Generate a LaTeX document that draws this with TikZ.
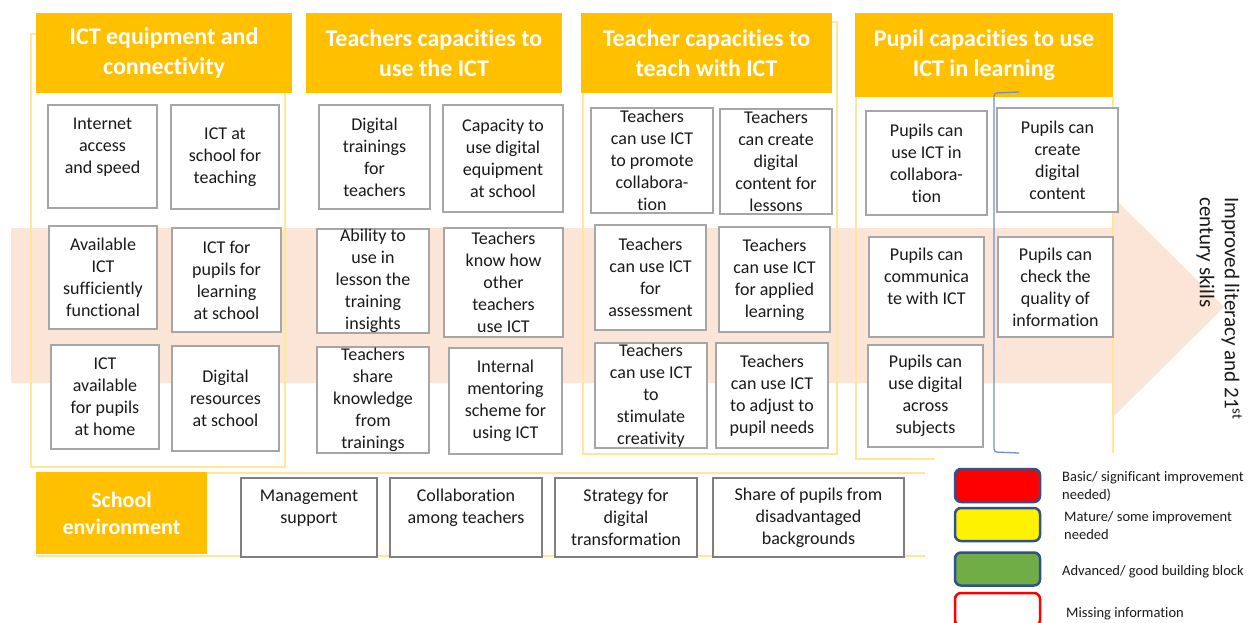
\documentclass[tikz,border=0pt]{standalone}
\usepackage{fontspec}
\setmainfont{Carlito}[Ligatures=NoCommon]
\usepackage{xcolor}
\usetikzlibrary{positioning}

\definecolor{hdryellow}{HTML}{FFC000}
\definecolor{paleyellow}{HTML}{FFE699}
\definecolor{cellgray}{HTML}{A6A6A6}
\definecolor{envgray}{HTML}{7F7F7F}
\definecolor{peach}{HTML}{FBE5D6}
\definecolor{legblue}{HTML}{2F528F}
\definecolor{brackblue}{HTML}{6F8FCB}
\definecolor{leggreen}{HTML}{70AD47}
\definecolor{txtdark}{HTML}{1A1A1A}

\tikzset{
  hdr/.style 2 args={fill=hdryellow, text=white, align=center, inner sep=0pt,
    font=\bfseries\fontsize{24}{30}\selectfont, minimum width=#1pt, minimum height=#2pt},
  cell/.style 2 args={draw=cellgray, line width=2pt, fill=white, align=center, inner sep=0pt,
    text=txtdark, font=\fontsize{18}{22}\selectfont, minimum width=#1pt, minimum height=#2pt},
  envcell/.style={cell={#1}{79}, draw=envgray, line width=1.3pt},
  frame/.style={draw=paleyellow, line width=1.5pt},
  legbox/.style={draw=legblue, line width=2.5pt, rounded corners=6pt,
    minimum width=85pt, minimum height=33pt},
  legtxt/.style={anchor=west, align=left, inner sep=0pt, text=txtdark,
    font=\fontsize{14.5}{18}\selectfont}
}

\begin{document}
\begin{tikzpicture}[x=1pt,y=-1pt]
\useasboundingbox (0,0) rectangle (1259,623);
\clip (0,0) rectangle (1259,623);

% big arrow behind everything
\fill[peach] (11,228) -- (1113,228) -- (1113,197) -- (1224,307) -- (1113,417)
  -- (1113,383) -- (11,383) -- cycle;

% frames
\draw[frame] (31,34) rectangle (285,467);
\draw[frame] (583,22) rectangle (837,454);
\draw[frame] (1113,97) -- (1113,453);
\draw[frame] (856,97) -- (856,459) -- (935,459);
\draw[frame] (36,473) -- (925,473) (36,556) -- (925,556);

% headers
\node[hdr={256}{80}] (equip) at (164,53) {ICT equipment and\\connectivity};
\node[hdr={256}{80}] (tuse) at (434,53) {Teachers capacities to\\use the ICT};
\node[hdr={251}{80}] (tteach) at (706.5,53) {Teacher capacities to\\teach with ICT};
\node[hdr={258}{84}] (pupil) at (984,55) {Pupil capacities to use\\ICT in learning};
\node[hdr={171}{82}, font=\bfseries\fontsize{22}{27}\selectfont] (env) at (121.5,513) {School\\environment};

\draw[brackblue, line width=1.3pt, rounded corners=3pt] (1019,92) -- (994,93) -- (994,452) -- (1019,453);

% column 1
\node[cell={109}{103}] (inet) at (102.5,156.5) {Internet\\access\\and speed\\~};
\node[cell={108}{104}] (ictteach) at (225,157) {ICT at\\school for\\teaching};
\node[cell={108}{103}] (avail) at (103,277.5) {Available\\ICT\\sufficiently\\functional};
\node[cell={109}{104}] (ictlearn) at (226.5,280) {ICT for\\pupils for\\learning\\at school};
\node[cell={108}{104}] (home) at (105,397) {ICT\\available\\for pupils\\at home};
\node[cell={107}{105}] (digres) at (225.5,398.5) {Digital\\resources\\at school};

% column 2
\node[cell={111}{104}] (dtrain) at (374.5,157) {Digital\\trainings\\for\\teachers};
\node[cell={120}{107}] (capac) at (503,158.5) {Capacity to\\use digital\\equipment\\at school};
\node[cell={112}{104}] (abil) at (373,281) {Ability to\\use in\\lesson the\\training\\insights};
\node[cell={119}{109}] (know) at (503.5,282.5) {Teachers\\know how\\other\\teachers\\use ICT};
\node[cell={112}{106}] (tshare) at (373,400) {Teachers\\share\\knowledge\\from\\trainings};
\node[cell={113}{106}] (mentor) at (505.5,401) {Internal\\mentoring\\scheme for\\using ICT};

% column 3
\node[cell={122}{105}] (promote) at (652,160.5) {Teachers\\can use ICT\\to promote\\collabora-\\tion};
\node[cell={112}{105}] (tcreate) at (776,161.5) {Teachers\\can create\\digital\\content for\\lessons};
\node[cell={111}{105}] (assess) at (650.5,277.5) {Teachers\\can use ICT\\for\\assessment};
\node[cell={111}{105}] (applied) at (774.5,279.5) {Teachers\\can use ICT\\for applied\\learning};
\node[cell={112}{105}] (stim) at (651,395.5) {Teachers\\can use ICT\\to\\stimulate\\creativity};
\node[cell={112}{105}] (adjust) at (772,395.5) {Teachers\\can use ICT\\to adjust to\\pupil needs};

% column 4
\node[cell={121}{104}] (pcollab) at (926.5,163) {Pupils can\\use ICT in\\collabora-\\tion};
\node[cell={121}{104}] (pcreate) at (1057.5,160) {Pupils can\\create\\digital\\content};
\node[cell={115}{100}] (pcomm) at (926.5,287) {Pupils can\\communica\\te with ICT\\~};
\node[cell={115}{100}] (pcheck) at (1055.5,287) {Pupils can\\check the\\quality of\\information};
\node[cell={115}{102}] (pacross) at (925.5,396) {Pupils can\\use digital\\across\\subjects};

% school environment
\node[envcell={136}] (mgmt) at (309,517.5) {Management\\support\\~};
\node[envcell={152}] (collab) at (466,517.5) {Collaboration\\among teachers\\~};
\node[envcell={142}] (strat) at (626,517.5) {Strategy for\\digital\\transformation};
\node[envcell={191}] (disadv) at (808.5,517.5) {Share of pupils from\\disadvantaged\\backgrounds};

% outcome
\node[rotate=-90, anchor=north west, align=left, inner sep=0pt, text=txtdark,
  font=\fontsize{21}{25}\selectfont] (goal) at (1242,197)
  {Improved literacy and 21\textsuperscript{st}\\century skills};

% legend
\node[legbox, fill=red] (basic) at (997.5,485.5) {};
\node[legbox, fill=yellow] (mature) at (997.5,524.5) {};
\node[legbox, fill=leggreen] (advanced) at (997.5,569) {};
\node[legbox, draw=red, fill=white] (missing) at (997.5,609.5) {};
\node[legtxt] (basictxt) at (1062,486) {Basic/ significant improvement\\needed)};
\node[legtxt] (maturetxt) at (1064,526) {Mature/ some improvement\\needed};
\node[legtxt] (advancedtxt) at (1062,572) {Advanced/ good building block};
\node[legtxt] (missingtxt) at (1066,614) {Missing information};
\end{tikzpicture}
\end{document}
